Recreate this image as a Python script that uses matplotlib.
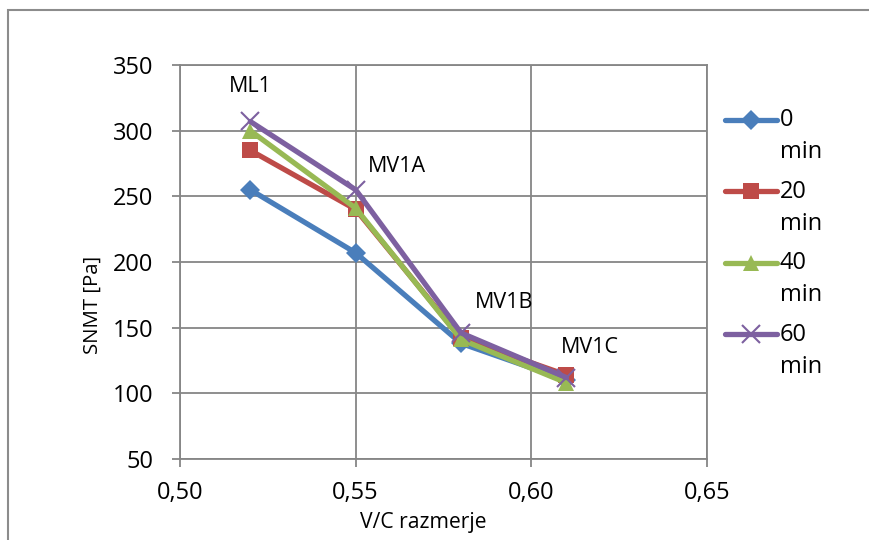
import numpy as np
import matplotlib
matplotlib.use("Agg")
import matplotlib.pyplot as plt
import matplotlib.transforms as mtransforms
from matplotlib.legend_handler import HandlerLine2D
from matplotlib.patches import Rectangle

plt.rcParams['font.family'] = ['Open Sans', 'DejaVu Sans']

# DATA
vc_ratio = [0.52, 0.55, 0.58, 0.61]
mix_names = ["ML1", "MV1A", "MV1B", "MV1C"]
snmt_0 = [255, 207, 138, 110]
snmt_20 = [285, 240, 142, 114]
snmt_40 = [300, 241, 141, 108]
snmt_60 = [307, 255, 146, 112]
series_labels = ["0\nmin", "20\nmin", "40\nmin", "60\nmin"]

colors = ["#4A7EBB", "#BE4B48", "#98B954", "#7D60A0"]
markers = ["D", "s", "^", "x"]
msizes = [10, 12, 12, 13]


class FirstLineHandler(HandlerLine2D):
    # put legend handle next to the first line of a two-line label
    def create_artists(self, legend, orig_handle, xdescent, ydescent,
                       width, height, fontsize, trans):
        shift = mtransforms.Affine2D().translate(0, 0.72 * fontsize)
        return super().create_artists(legend, orig_handle, xdescent, ydescent,
                                      width, height, fontsize, shift + trans)


fig = plt.figure(figsize=(8.69, 5.40), dpi=100)
ax = fig.add_axes([180 / 869, 1 - 459 / 540, 527 / 869, 394 / 540])

grid_col = "#868686"
all_series = [snmt_0, snmt_20, snmt_40, snmt_60]
handles = []
for vals, c, m, ms, lab in zip(all_series, colors, markers, msizes, series_labels):
    if m == "x":
        h, = ax.plot(vc_ratio, vals, color=c, lw=3.8, marker=m, ms=ms,
                     mew=1.5, label=lab, solid_capstyle="round", zorder=3)
    else:
        h, = ax.plot(vc_ratio, vals, color=c, lw=3.8, marker=m, ms=ms,
                     mew=0, label=lab, solid_capstyle="round", zorder=3)
    handles.append(h)

# data labels on the 60 min series
offsets = [(0, 25), (29.5, 17), (31, 22), (17, 21.5)]
for x, y, name, off in zip(vc_ratio, snmt_60, mix_names, offsets):
    ax.annotate(name, (x, y), xytext=off, textcoords="offset points",
                ha="center", va="center", fontsize=15.5, color="black")

ax.set_xlim(0.50, 0.65)
ax.set_ylim(50, 350)
ax.set_xticks([0.50, 0.55, 0.60, 0.65])
ax.set_xticklabels(["0,50", "0,55", "0,60", "0,65"])
ax.set_yticks(range(50, 351, 50))
ax.grid(True, color=grid_col, lw=1.3)
ax.set_axisbelow(True)
for s in ax.spines.values():
    s.set_color(grid_col)
    s.set_linewidth(1.3)
ax.tick_params(direction="out", length=6, width=1.3, color=grid_col,
               labelsize=17)
ax.tick_params(axis="y", pad=13)
ax.tick_params(axis="x", pad=10)

ax.set_xlabel("V/C razmerje", fontsize=15.2)
ax.set_ylabel("SNMT [Pa]", fontsize=14.7)
ax.xaxis.label.set_va("center")
ax.yaxis.label.set_va("center")
ax.xaxis.set_label_coords(0.461, -0.16)
ax.yaxis.set_label_coords(-0.165, 0.39)

leg = fig.legend(handles=handles, loc="upper left",
                 bbox_to_anchor=(704 / 869, 1 - 87 / 540),
                 frameon=False, fontsize=17, handlelength=2.2,
                 handletextpad=0.1, labelspacing=0.65,
                 handler_map={h: FirstLineHandler(numpoints=1) for h in handles})
for t in leg.get_texts():
    t.set_linespacing(1.45)

# outer chart border
fig.patches.append(Rectangle((8 / 869, -0.1), 1.0, 1.1 - 10 / 540,
                             transform=fig.transFigure, fill=False,
                             edgecolor="#8C8C8C", lw=1.5))

fig.savefig("out.png", dpi=100)
